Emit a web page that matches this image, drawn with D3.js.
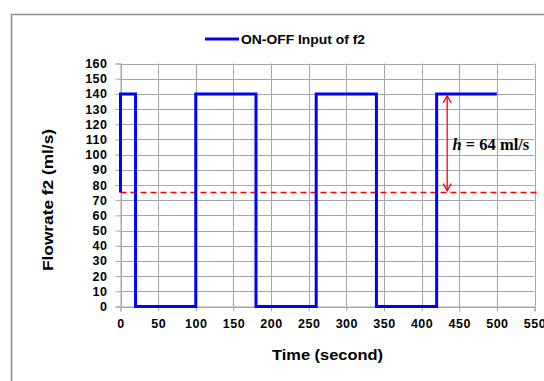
<!DOCTYPE html>
<html>
<head>
<meta charset="utf-8">
<script src="https://cdn.jsdelivr.net/npm/d3@7/dist/d3.min.js"></script>
<style>
  html, body { margin: 0; padding: 0; background: #fff; }
  svg { display: block; }
</style>
</head>
<body>
<svg id="chart" width="544" height="381"></svg>
<script>
// ON-OFF square-wave input of flow f2 (time in s, flow in ml/s)
const timeS = [0, 0, 20, 20, 100, 100, 180, 180, 260, 260, 340, 340, 420, 420, 500];
const flowF2 = [75, 140, 140, 0, 0, 140, 140, 0, 0, 140, 140, 0, 0, 140, 140];

// reference level and amplitude annotation
const refLevel = 75;
const refSpan = [0, 558];
const arrowTime = 434;
const arrowRange = [75, 140];
const ampLabel = { t: 441, v: 103, h: "h", rest: " = 64 ml/s" };

const xTicks = [0, 50, 100, 150, 200, 250, 300, 350, 400, 450, 500, 550];
const yTicks = d3.range(0, 161, 10);

const legendLabel = "ON-OFF Input of f2";
const xTitle = "Time (second)";
const yTitle = "Flowrate f2 (ml/s)";

const SANS = "'Liberation Sans', Arial, sans-serif";
const SERIF = "'Liberation Serif', 'Times New Roman', serif";

const svg = d3.select("#chart");

const x = d3.scaleLinear().domain([0, 550]).range([120.5, 534.5]);
const y = d3.scaleLinear().domain([0, 160]).range([306.5, 63.5]);

// outer chart border (runs off the right and bottom edges)
svg.append("rect")
  .attr("x", 11.5).attr("y", 14.5)
  .attr("width", 560).attr("height", 400)
  .attr("fill", "none").attr("stroke", "#8c8c8c").attr("stroke-width", 1.5);

// gridlines
const grid = svg.append("g").attr("stroke", "#a6a6a6").attr("stroke-width", 1);
grid.selectAll("line.h").data(yTicks).join("line")
  .attr("x1", x(0)).attr("x2", x(550))
  .attr("y1", d => Math.round(y(d)) + 0.5).attr("y2", d => Math.round(y(d)) + 0.5);
grid.selectAll("line.v").data(xTicks).join("line")
  .attr("y1", y(0)).attr("y2", y(160))
  .attr("x1", d => Math.round(x(d)) + 0.5).attr("x2", d => Math.round(x(d)) + 0.5);

function styleTicks(g) {
  g.select(".domain").attr("stroke", "#a6a6a6");
  g.selectAll(".tick line").attr("stroke", "#a6a6a6");
  g.selectAll(".tick text")
    .style("font-family", SANS).style("font-weight", "bold")
    .style("font-size", "12.5px").style("letter-spacing", "0.5px").attr("fill", "#000");
}

// axes
const xAxis = d3.axisBottom(x).tickValues(xTicks).tickSize(5).tickPadding(8);
svg.append("g").attr("transform", `translate(0,${y(0)})`).call(xAxis).call(styleTicks);

const yAxis = d3.axisLeft(y).tickValues(yTicks).tickSize(5).tickPadding(8);
svg.append("g").attr("transform", `translate(${x(0)},0)`).call(yAxis).call(styleTicks);

// dashed reference line
svg.append("line")
  .attr("x1", x(refSpan[0])).attr("x2", x(refSpan[1]))
  .attr("y1", y(refLevel)).attr("y2", y(refLevel))
  .attr("stroke", "#ff0000").attr("stroke-width", 1.5)
  .attr("stroke-dasharray", "6,4");

// the ON-OFF series
const pts = timeS.map((t, i) => [t, flowF2[i]]);
svg.append("path")
  .datum(pts)
  .attr("fill", "none")
  .attr("stroke", "#0000ff")
  .attr("stroke-width", 3)
  .attr("d", d3.line().x(d => x(d[0])).y(d => y(d[1])));

// double-headed amplitude arrow
const ax = x(arrowTime);
const aTop = y(arrowRange[1]) + 2, aBot = y(arrowRange[0]) - 2;
const arrow = svg.append("g").attr("stroke", "#ff0000").attr("stroke-width", 1.3).attr("fill", "none");
arrow.append("line").attr("x1", ax).attr("x2", ax).attr("y1", aTop).attr("y2", aBot);
arrow.append("path").attr("d", `M${ax - 4},${aTop + 7} L${ax},${aTop} L${ax + 4},${aTop + 7}`);
arrow.append("path").attr("d", `M${ax - 4},${aBot - 7} L${ax},${aBot} L${ax + 4},${aBot - 7}`);

const lbl = svg.append("text")
  .attr("x", x(ampLabel.t)).attr("y", y(ampLabel.v))
  .style("font-family", SERIF).style("font-weight", "bold")
  .style("font-size", "16.5px").attr("fill", "#000");
lbl.append("tspan").style("font-style", "italic").text(ampLabel.h);
lbl.append("tspan").text(ampLabel.rest);

// axis titles
svg.append("text")
  .attr("x", (x(0) + x(550)) / 2).attr("y", 360)
  .attr("text-anchor", "middle")
  .attr("textLength", 111).attr("lengthAdjust", "spacingAndGlyphs")
  .style("font-family", SANS).style("font-weight", "bold").style("font-size", "15px")
  .text(xTitle);

svg.append("text")
  .attr("transform", "translate(53,200) rotate(-90)")
  .attr("text-anchor", "middle")
  .attr("textLength", 142).attr("lengthAdjust", "spacingAndGlyphs")
  .style("font-family", SANS).style("font-weight", "bold").style("font-size", "15px")
  .text(yTitle);

// legend
svg.append("line")
  .attr("x1", 205).attr("x2", 239).attr("y1", 39).attr("y2", 39)
  .attr("stroke", "#0000ff").attr("stroke-width", 3);
svg.append("text")
  .attr("x", 241).attr("y", 43.5)
  .attr("textLength", 124).attr("lengthAdjust", "spacingAndGlyphs")
  .style("font-family", SANS).style("font-weight", "bold").style("font-size", "13px")
  .text(legendLabel);
</script>
</body>
</html>
